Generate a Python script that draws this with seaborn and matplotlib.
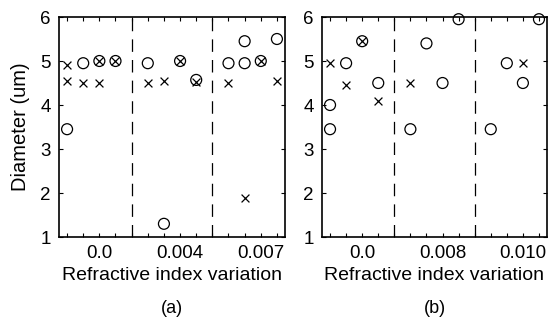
import matplotlib
matplotlib.use("Agg")
import matplotlib.pyplot as plt
import numpy as np
import pandas as pd
import seaborn as sns

# Data (position index along the x axis, diameter in um)
a_circle_pos = [0, 1, 2, 3, 5, 6, 7, 8, 10, 11, 11, 12, 13]
a_circle_d = [3.45, 4.95, 5.0, 5.0, 4.95, 1.3, 5.0, 4.57, 4.95, 5.45, 4.95, 5.0, 5.5]
a_cross_pos = [0, 0, 1, 2, 2, 3, 5, 6, 7, 8, 10, 11, 12, 13]
a_cross_d = [4.9, 4.55, 4.5, 5.0, 4.5, 5.0, 4.5, 4.55, 5.0, 4.52, 4.5, 1.88, 5.0, 4.55]

b_circle_pos = [0, 0, 1, 2, 3, 5, 6, 7, 8, 10, 11, 12, 13]
b_circle_d = [4.0, 3.45, 4.95, 5.45, 4.5, 3.45, 5.4, 4.5, 5.95, 3.45, 4.95, 4.5, 5.95]
b_cross_pos = [0, 1, 2, 3, 5, 12]
b_cross_d = [4.95, 4.45, 5.45, 4.1, 4.5, 4.95]

a_ticklabels = {2: "0.0", 7: "0.004", 12: "0.007"}
b_ticklabels = {2: "0.0", 7: "0.008", 12: "0.010"}
dashed_pos = [4, 9]

sns.set_style("ticks", {"axes.edgecolor": "black", "text.color": "black",
                        "axes.labelcolor": "black", "xtick.color": "black",
                        "ytick.color": "black"})
plt.rcParams["font.family"] = ["Liberation Sans", "DejaVu Sans"]

fig = plt.figure(figsize=(5.51, 3.25), dpi=100)
ax_a = fig.add_axes([59 / 551, 1 - 237 / 325, 226 / 551, 220 / 325])
ax_b = fig.add_axes([322 / 551, 1 - 237 / 325, 225 / 551, 220 / 325])

panels = [
    (ax_a, a_circle_pos, a_circle_d, a_cross_pos, a_cross_d, a_ticklabels, "(a)"),
    (ax_b, b_circle_pos, b_circle_d, b_cross_pos, b_cross_d, b_ticklabels, "(b)"),
]

for ax, cpos, cd, xpos, xd, labels, tag in panels:
    circles = pd.DataFrame({"pos": cpos, "d": cd})
    crosses = pd.DataFrame({"pos": xpos, "d": xd})
    for p in dashed_pos:
        ax.axvline(p, color="black", lw=0.9, dashes=(10, 6.5), zorder=1)
    sns.scatterplot(data=circles, x="pos", y="d", ax=ax, marker="o",
                    s=62, facecolors="none", edgecolor="black", linewidth=0.9,
                    zorder=3, clip_on=False)
    sns.scatterplot(data=crosses, x="pos", y="d", ax=ax, marker="x",
                    s=32, color="black", linewidth=0.9, zorder=3, clip_on=False)
    ax.set_xlim(-0.5, 13.5)
    ax.set_ylim(1, 6)
    ax.set_xticks(np.arange(14))
    ax.set_xticklabels([labels.get(i, "") for i in range(14)])
    ax.set_yticks([1, 2, 3, 4, 5, 6])
    ax.tick_params(direction="in", length=3, width=0.8, top=True, right=True,
                   labelsize=13.5, pad=6)
    for s in ax.spines.values():
        s.set_linewidth(1.2)
        s.set_visible(True)
    ax.set_xlabel("Refractive index variation", fontsize=14, labelpad=3)
    ax.set_ylabel("")
    ax.text(0.5, -0.325, tag, transform=ax.transAxes, ha="center", va="center",
            fontsize=13)

ax_a.set_ylabel("Diameter (um)", fontsize=14.5, labelpad=7)

fig.savefig("out.png", dpi=100)
